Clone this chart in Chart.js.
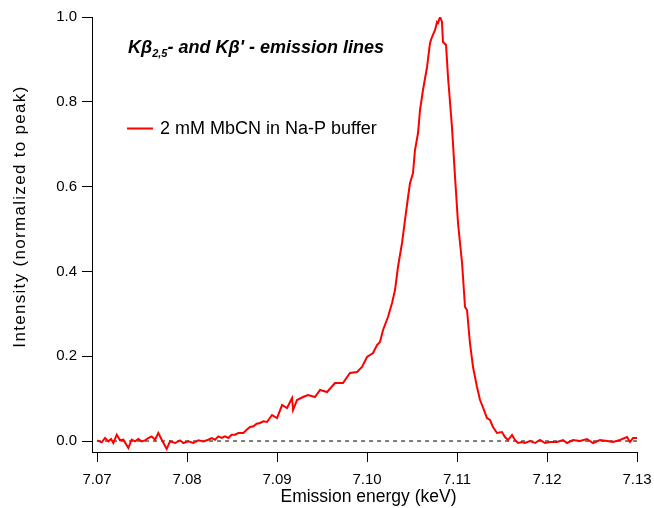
<!DOCTYPE html>
<html>
<head>
<meta charset="utf-8">
<script src="https://cdn.jsdelivr.net/npm/chart.js@4/dist/chart.umd.min.js"></script>
<style>
  html, body { margin: 0; padding: 0; background: #ffffff; }
  #wrap { width: 654px; height: 508px; }
</style>
</head>
<body>
<div id="wrap"><canvas id="c" width="654" height="508"></canvas></div>
<script>
// ---- Data ----
const energy = [
  7.0700, 7.07052, 7.07089, 7.07126, 7.07156, 7.07181, 7.07219, 7.07256, 7.07293, 7.07348,
  7.07385, 7.07422, 7.07459, 7.07496, 7.07533, 7.07570, 7.07607, 7.07644, 7.07681, 7.07719,
  7.07774, 7.07811, 7.07867, 7.07922, 7.07959, 7.08015, 7.08070, 7.08126, 7.08181, 7.08237,
  7.08274, 7.08311, 7.08348, 7.08385, 7.08422, 7.08459, 7.08496, 7.08533, 7.08570, 7.08626,
  7.08663, 7.08700, 7.08737, 7.08774, 7.08811, 7.08848, 7.08889, 7.08944, 7.09000, 7.09056,
  7.09111, 7.09167, 7.09178, 7.09222, 7.09289, 7.09344, 7.09422, 7.09478, 7.09556, 7.09644,
  7.09733, 7.09811, 7.09889, 7.09944, 7.10000, 7.10067, 7.10111, 7.10144, 7.10178, 7.10233,
  7.10278, 7.10311, 7.10344, 7.10389, 7.10422, 7.10456, 7.10478, 7.10511, 7.10533, 7.10567,
  7.10589, 7.10622, 7.10667, 7.10700, 7.10722, 7.10756, 7.10778, 7.10789, 7.10811, 7.10833,
  7.10844, 7.10878, 7.10900, 7.10944, 7.10978, 7.11011, 7.11056, 7.11089, 7.11111, 7.11144,
  7.11178, 7.11222, 7.11256, 7.11300, 7.11333, 7.11367, 7.11400, 7.11444, 7.11500, 7.11533,
  7.11567, 7.11611, 7.11644, 7.11678, 7.11722, 7.11756, 7.11811, 7.11867, 7.11922, 7.11978,
  7.12033, 7.12111, 7.12178, 7.12222, 7.12289, 7.12367, 7.12444, 7.12511, 7.12589, 7.12667,
  7.12733, 7.12811, 7.12889, 7.12922, 7.12956, 7.13000
];
const intensity = [
  0.0016, -0.0031, 0.0071, -0.0008, 0.0047, -0.0047, 0.0149, 0.0016, 0.0031, -0.0165,
  0.0031, -0.0008, 0.0047, -0.0008, 0.0016, 0.0071, 0.0110, 0.0031, 0.0189, 0.0031,
  -0.0189, -0.0008, -0.0047, 0.0016, -0.0047, -0.0008, -0.0047, 0.0016, -0.0008, 0.0031,
  0.0071, 0.0031, 0.0110, 0.0071, 0.0110, 0.0071, 0.0149, 0.0149, 0.0189, 0.0189,
  0.0267, 0.0330, 0.0346, 0.0409, 0.0425, 0.0464, 0.0448, 0.0613, 0.0542, 0.0849,
  0.0778, 0.1014, 0.0731, 0.0967, 0.1038, 0.1085, 0.1038, 0.1203, 0.1156, 0.1368,
  0.1368, 0.1604, 0.1627, 0.1745, 0.1981, 0.2075, 0.2264, 0.2335, 0.2618, 0.2925,
  0.3255, 0.3561, 0.4104, 0.4670, 0.5212, 0.5755, 0.6085, 0.6321, 0.6863, 0.7264,
  0.7807, 0.8278, 0.8821, 0.9387, 0.9528, 0.9693, 0.9882, 0.9858, 1.0000, 0.9882,
  0.9410, 0.9340, 0.8585, 0.7406, 0.6226, 0.5142, 0.4198, 0.3160, 0.3090, 0.2311,
  0.1745, 0.1274, 0.0967, 0.0731, 0.0542, 0.0495, 0.0330, 0.0189, 0.0212, 0.0094,
  0.0024, 0.0142, 0.0024, -0.0047, -0.0024, -0.0047, 0.0000, -0.0047, 0.0024, -0.0047,
  -0.0024, -0.0024, 0.0024, -0.0047, 0.0024, 0.0000, 0.0047, -0.0047, 0.0024, 0.0000,
  -0.0024, 0.0024, 0.0094, -0.0024, 0.0071, 0.0071
];
const zeroLineX = [7.07, 7.13];
const zeroLineY = [0, 0];
const xTickValues = [7.07, 7.08, 7.09, 7.10, 7.11, 7.12, 7.13];
const yTickValues = [0.0, 0.2, 0.4, 0.6, 0.8, 1.0];
const seriesLabel = '2 mM MbCN in Na-P buffer';
const xTitle = 'Emission energy (keV)';
const yTitle = 'Intensity (normalized to peak)';

// ---- Chart ----
const FONT = '"Liberation Sans", Arial, Helvetica, sans-serif';
const spectrum = energy.map((e, i) => ({ x: e, y: intensity[i] }));
const zeroLine = zeroLineX.map((e, i) => ({ x: e, y: zeroLineY[i] }));

const overlayText = {
  id: 'overlayText',
  afterDraw(chart) {
    const ctx = chart.ctx;
    ctx.save();
    ctx.fillStyle = '#000000';
    ctx.textBaseline = 'alphabetic';
    ctx.textAlign = 'left';
    // title: Kβ2,5- and Kβ' - emission lines
    let x = 128;
    const yb = 53;
    ctx.font = 'italic bold 18px ' + FONT;
    ctx.fillText('Kβ', x, yb);
    x += ctx.measureText('Kβ').width;
    ctx.font = 'italic bold 11px ' + FONT;
    ctx.fillText('2,5', x, yb + 4);
    x += ctx.measureText('2,5').width;
    ctx.font = 'italic bold 18px ' + FONT;
    ctx.fillText("- and Kβ' - emission lines", x, yb);

    // legend
    const ds = chart.data.datasets[0];
    ctx.strokeStyle = ds.borderColor;
    ctx.lineWidth = 2;
    ctx.beginPath();
    ctx.moveTo(127, 128.5);
    ctx.lineTo(153, 128.5);
    ctx.stroke();
    ctx.font = '18px ' + FONT;
    ctx.fillText(ds.label, 160, 134);

    // x axis title
    ctx.font = '17.5px ' + FONT;
    ctx.textAlign = 'center';
    ctx.textBaseline = 'middle';
    ctx.fillText(xTitle, 368.5, 497);

    // y axis title (rotated), spread to the reference length
    ctx.font = '17px ' + FONT;
    const w0 = ctx.measureText(yTitle).width;
    const target = 261;
    ctx.translate(20, 216.5);
    ctx.rotate(-Math.PI / 2);
    if ('letterSpacing' in ctx) {
      ctx.letterSpacing = ((target - w0) / (yTitle.length - 1)) + 'px';
      ctx.fillText(yTitle, 0, 0);
    } else {
      ctx.scale(target / w0, 1);
      ctx.fillText(yTitle, 0, 0);
    }
    ctx.restore();
  }
};

new Chart(document.getElementById('c'), {
  type: 'line',
  data: {
    datasets: [
      {
        label: seriesLabel,
        data: spectrum,
        borderColor: '#ff0000',
        borderWidth: 2,
        pointRadius: 0,
        tension: 0,
        fill: false,
        order: 0
      },
      {
        label: 'zero',
        data: zeroLine,
        borderColor: '#000000',
        borderWidth: 1,
        borderDash: [4, 4],
        pointRadius: 0,
        fill: false,
        order: 1
      }
    ]
  },
  options: {
    responsive: false,
    animation: false,
    layout: { padding: { left: 0, right: 17, top: 17, bottom: 0 } },
    plugins: {
      legend: { display: false },
      title: { display: false },
      tooltip: { enabled: false }
    },
    scales: {
      x: {
        type: 'linear',
        min: 7.06944,
        max: 7.13,
        afterBuildTicks(scale) { scale.ticks = xTickValues.map(v => ({ value: v })); },
        afterFit(scale) { scale.height = 56; scale.paddingLeft = 0; scale.paddingRight = 0; },
        border: { display: true, color: '#000000', width: 1 },
        grid: { drawOnChartArea: false, drawTicks: true, tickLength: 10, color: '#000000', lineWidth: 1 },
        ticks: {
          color: '#000000',
          font: { family: FONT, size: 15 },
          padding: 9,
          maxRotation: 0,
          autoSkip: false,
          callback: (v) => Number(v).toFixed(2)
        },
        title: { display: false }
      },
      y: {
        type: 'linear',
        min: -0.0259,
        max: 1.0,
        afterBuildTicks(scale) { scale.ticks = yTickValues.map(v => ({ value: v })); },
        afterFit(scale) { scale.width = 92; scale.paddingTop = 0; scale.paddingBottom = 0; },
        border: { display: true, color: '#000000', width: 1 },
        grid: { drawOnChartArea: false, drawTicks: true, tickLength: 10, color: '#000000', lineWidth: 1 },
        ticks: {
          color: '#000000',
          font: { family: FONT, size: 15 },
          padding: 5,
          autoSkip: false,
          callback: (v) => Number(v).toFixed(1)
        },
        title: { display: false }
      }
    }
  },
  plugins: [overlayText]
});
</script>
</body>
</html>
